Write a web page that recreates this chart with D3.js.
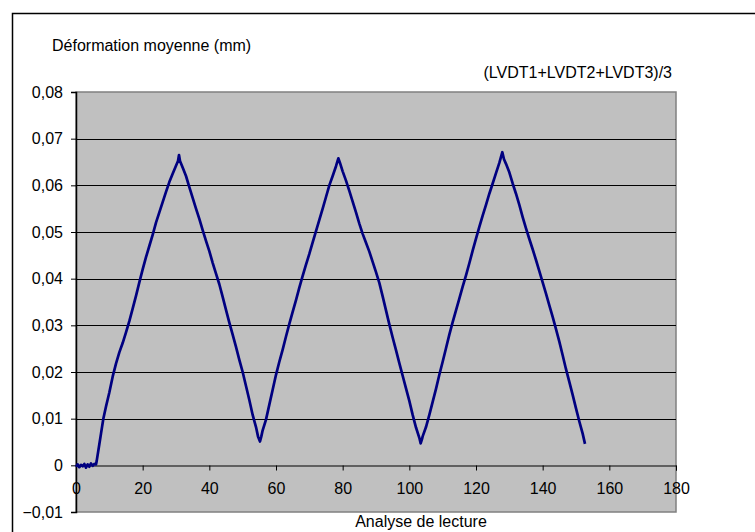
<!DOCTYPE html>
<html>
<head>
<meta charset="utf-8">
<script src="https://cdn.jsdelivr.net/npm/d3@7"></script>
<style>
  html, body { margin: 0; padding: 0; background: #fff; }
  svg text { font-family: "Liberation Sans", Arial, sans-serif; fill: #000; }
</style>
</head>
<body>
<svg id="chart" width="755" height="532"></svg>
<script>
// Mean LVDT deformation versus reading index
const seriesName = "(LVDT1+LVDT2+LVDT3)/3";
const yTitle = "Déformation moyenne (mm)";
const xTitle = "Analyse de lecture";

const xTicks = [0, 20, 40, 60, 80, 100, 120, 140, 160, 180];
const yTicks = [-0.01, 0, 0.01, 0.02, 0.03, 0.04, 0.05, 0.06, 0.07, 0.08];

// reading index
const lecture = [
  0, 0.5, 1, 1.5, 2, 2.5, 3, 3.5, 4, 4.5, 5, 5.5, 6, 6.2,
  7, 7.5, 8.2, 9, 10, 11, 12, 13, 14, 15, 16, 17, 18, 19, 20, 21, 22, 23, 24, 25, 26, 27, 28, 29, 30, 30.6, 30.9, 31.2,
  32, 33, 34, 35, 36, 37, 38, 39, 40, 41, 42, 43, 44, 45, 46, 47, 48, 49, 50, 51, 52, 53, 54, 54.6, 55.2, 55.6,
  56, 57, 58, 59, 60, 61, 62, 63, 64, 65, 66, 67, 68, 69, 70, 71, 72, 73, 74, 75, 76, 77, 78, 78.7, 79.2,
  80, 81, 82, 83, 84, 85, 86, 87, 88, 89, 90, 91, 92, 93, 94, 95, 96, 97, 98, 99, 100, 101, 102, 103, 103.4, 103.8,
  104, 105, 106, 107, 108, 109, 110, 111, 112, 113, 114, 115, 116, 117, 118, 119, 120, 121, 122, 123, 124, 125, 126, 127, 127.9, 128.4,
  129, 130, 131, 132, 133, 134, 135, 136, 137, 138, 139, 140, 141, 142, 143, 144, 145, 146, 147, 148, 149, 150, 151, 152, 152.7
];

// mean deformation (mm)
const deformation = [
  -0.0003, 0.0002, -0.0004, 0.0001, -0.0002, 0.0003, -0.0005, 0.0002, -0.0003, 0.0004, -0.0001, 0.0003, 0.0002, 0.0009,
  0.0045, 0.0068, 0.0100, 0.0126, 0.0156, 0.0190, 0.0218, 0.0242, 0.0262, 0.0285, 0.0309, 0.0336, 0.0363, 0.0392, 0.0420, 0.0446, 0.0470, 0.0494, 0.0520, 0.0542, 0.0564, 0.0586, 0.0607, 0.0625, 0.0642, 0.0652, 0.0665, 0.0652,
  0.0638, 0.0620, 0.0596, 0.0573, 0.0550, 0.0528, 0.0504, 0.0481, 0.0459, 0.0434, 0.0411, 0.0388, 0.0361, 0.0333, 0.0306, 0.0280, 0.0254, 0.0226, 0.0200, 0.0170, 0.0140, 0.0108, 0.0082, 0.0062, 0.0051, 0.0062,
  0.0075, 0.0098, 0.0130, 0.0162, 0.0194, 0.0222, 0.0248, 0.0276, 0.0303, 0.0329, 0.0354, 0.0381, 0.0406, 0.0430, 0.0453, 0.0478, 0.0502, 0.0526, 0.0550, 0.0575, 0.0600, 0.0620, 0.0641, 0.0658, 0.0648,
  0.0630, 0.0610, 0.0588, 0.0565, 0.0542, 0.0518, 0.0496, 0.0477, 0.0458, 0.0436, 0.0414, 0.0391, 0.0362, 0.0332, 0.0302, 0.0274, 0.0247, 0.0219, 0.0192, 0.0165, 0.0138, 0.0108, 0.0081, 0.0059, 0.0047, 0.0056,
  0.0062, 0.0082, 0.0108, 0.0136, 0.0164, 0.0194, 0.0222, 0.0251, 0.0280, 0.0307, 0.0332, 0.0357, 0.0383, 0.0407, 0.0433, 0.0460, 0.0486, 0.0511, 0.0535, 0.0558, 0.0582, 0.0604, 0.0626, 0.0648, 0.0671, 0.0656,
  0.0646, 0.0628, 0.0604, 0.0582, 0.0558, 0.0532, 0.0508, 0.0485, 0.0463, 0.0440, 0.0416, 0.0392, 0.0368, 0.0343, 0.0318, 0.0292, 0.0265, 0.0236, 0.0206, 0.0179, 0.0151, 0.0122, 0.0094, 0.0068, 0.0046
];

const svg = d3.select("#chart");
const plot = { left: 76, right: 676, top: 92, bottom: 512 };
const fontSize = "16px";

const x = d3.scaleLinear().domain([0, 180]).range([plot.left, plot.right]);
const y = d3.scaleLinear().domain([-0.01, 0.08]).range([plot.bottom, plot.top]);
const yFmt = d => Math.abs(d) < 1e-9 ? "0" : d3.format(".2f")(d).replace(".", ",");

// outer frame
svg.append("rect")
  .attr("x", 12.5).attr("y", 13.5)
  .attr("width", 760).attr("height", 540)
  .attr("fill", "#fff").attr("stroke", "#000").attr("stroke-width", 1.5);

// plot background
svg.append("rect")
  .attr("x", plot.left).attr("y", plot.top)
  .attr("width", plot.right - plot.left).attr("height", plot.bottom - plot.top)
  .attr("fill", "#c0c0c0").attr("stroke", "#808080").attr("stroke-width", 1.5);

// horizontal gridlines
svg.append("g")
  .selectAll("line")
  .data(yTicks.filter(v => v > 0.0001 && v < 0.0799))
  .join("line")
  .attr("x1", plot.left).attr("x2", plot.right)
  .attr("y1", d => Math.round(y(d)) + 0.5).attr("y2", d => Math.round(y(d)) + 0.5)
  .attr("stroke", "#000").attr("stroke-width", 1);

// y axis
const yAxis = d3.axisLeft(y).tickValues(yTicks).tickFormat(yFmt).tickSize(5).tickPadding(8);
const gy = svg.append("g").attr("transform", `translate(${plot.left},0)`).call(yAxis);
gy.select(".domain").attr("stroke", "#000").attr("stroke-width", 1.5);
gy.selectAll(".tick line").attr("stroke", "#000");
gy.selectAll(".tick text").style("font-size", fontSize).attr("fill", "#000");

// x axis along y = 0
const xAxis = d3.axisBottom(x).tickValues(xTicks).tickFormat(d3.format("d")).tickSize(5).tickPadding(12);
const gx = svg.append("g").attr("transform", `translate(0,${Math.round(y(0)) + 0.5})`).call(xAxis);
gx.select(".domain").attr("stroke", "#000").attr("stroke-width", 1);
gx.selectAll(".tick line").attr("stroke", "#000");
gx.selectAll(".tick text").style("font-size", fontSize).attr("fill", "#000");

// data line
const pts = lecture.map((v, i) => [v, deformation[i]]);
svg.append("path")
  .datum(pts)
  .attr("fill", "none")
  .attr("stroke", "#000080")
  .attr("stroke-width", 2.7)
  .attr("stroke-linejoin", "round")
  .attr("d", d3.line().x(d => x(d[0])).y(d => y(d[1])));

// titles
svg.append("text").attr("x", 52).attr("y", 50.5).style("font-size", fontSize).text(yTitle);
svg.append("text").attr("x", 672).attr("y", 77.5).attr("text-anchor", "end").style("font-size", fontSize).text(seriesName);
svg.append("text").attr("x", 421).attr("y", 526.5).attr("text-anchor", "middle").style("font-size", fontSize).text(xTitle);
</script>
</body>
</html>
